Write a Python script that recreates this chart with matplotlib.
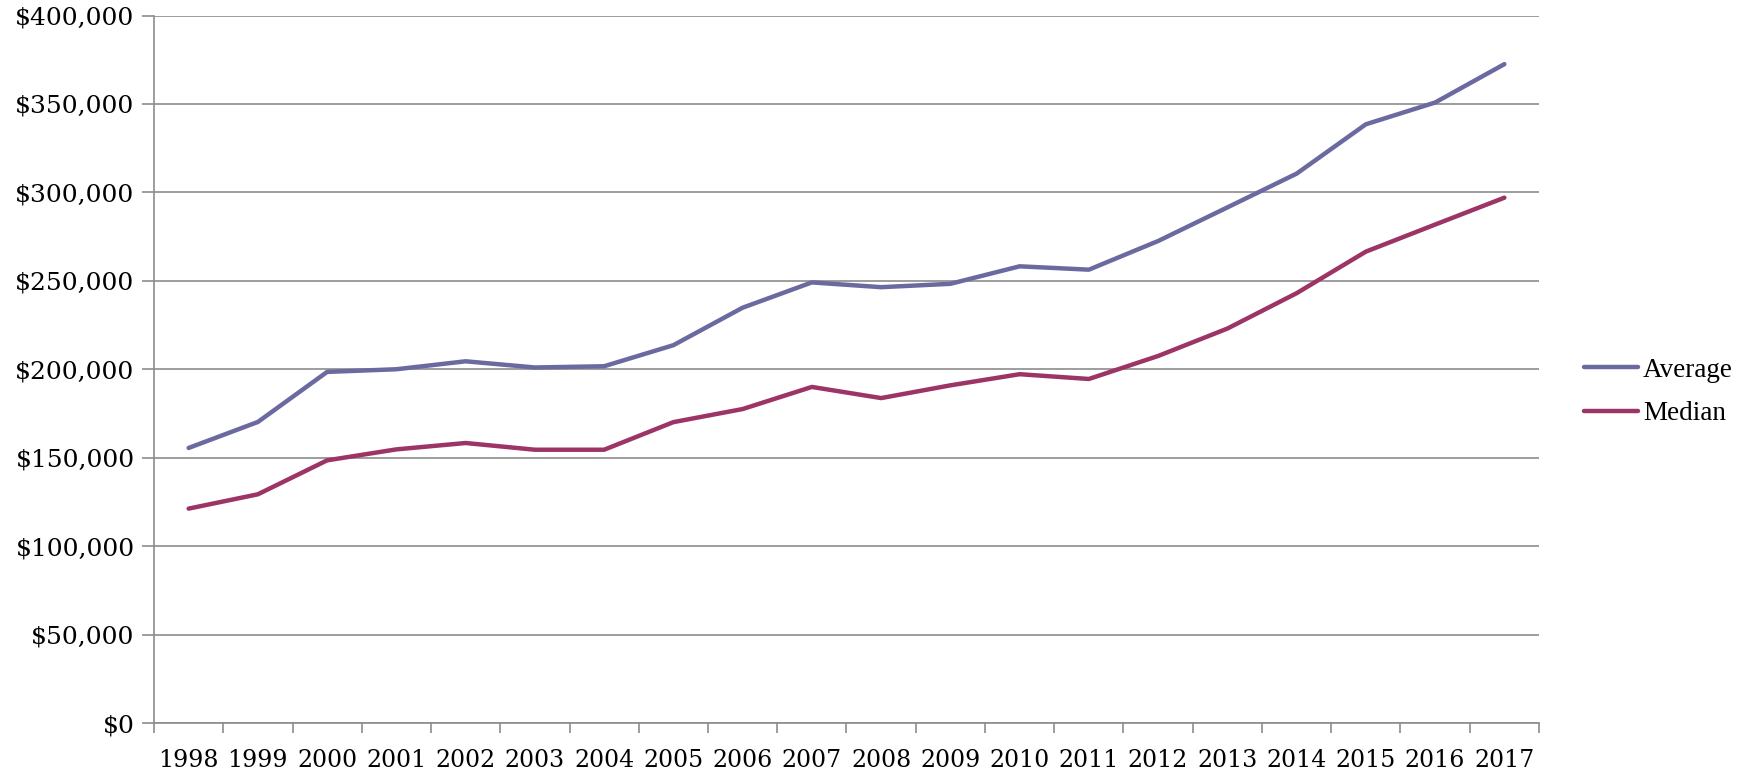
import numpy as np
import matplotlib
matplotlib.use("Agg")
import matplotlib.pyplot as plt
from matplotlib.ticker import FuncFormatter

# data
years = list(range(1998, 2018))
average = [155500, 170200, 198500, 200000, 204500, 201000, 201700, 213600, 234800, 249100,
           246400, 248300, 258200, 256300, 272500, 291500, 310600, 338500, 350800, 372500]
median = [121200, 129300, 148500, 154700, 158300, 154500, 154500, 170100, 177500, 190000,
          183700, 190900, 197200, 194500, 207500, 223000, 243000, 266500, 281800, 297000]
series_names = ["Average", "Median"]
colors = ["#6a6aa0", "#9c3466"]

plt.rcParams["font.family"] = ["DejaVu Serif"]

W, H = 1739, 772
fig = plt.figure(figsize=(W / 100, H / 100), dpi=100)
ax = fig.add_axes([154 / W, 1 - 723 / H, (1539 - 154) / W, (723 - 15.5) / H])

x = np.arange(len(years))
for vals, name, c in zip([average, median], series_names, colors):
    ax.plot(x, vals, color=c, lw=3.2, label=name, solid_capstyle="round", solid_joinstyle="round")

grey = "#8c8c8c"
ax.set_ylim(0, 400000)
ax.set_yticks(np.arange(0, 400001, 50000))
ax.yaxis.set_major_formatter(FuncFormatter(lambda v, p: f"${v:,.0f}"))
ax.grid(axis="y", color=grey, lw=1.2)
ax.set_axisbelow(True)

ax.set_xlim(-0.5, len(years) - 0.5)
ax.set_xticks(x)
ax.set_xticklabels([str(y) for y in years])
ax.set_xticks(np.arange(-0.5, len(years)), minor=True)
ax.tick_params(axis="x", which="major", length=0, pad=19, labelsize=17)
ax.tick_params(axis="x", which="minor", length=7, color=grey, width=1.2)
ax.tick_params(axis="y", length=9, color=grey, width=1.2, pad=5, labelsize=18)

for s in ["top", "right"]:
    ax.spines[s].set_visible(False)
for s in ["left", "bottom"]:
    ax.spines[s].set_color(grey)
    ax.spines[s].set_linewidth(1.2)

leg = fig.legend(loc="center left", bbox_to_anchor=(1584 / W, 1 - 392 / H), frameon=False,
                 prop={"family": "Liberation Serif", "size": 19.5}, handlelength=2.0,
                 handletextpad=0.18, labelspacing=0.68, borderaxespad=0, borderpad=0)

fig.savefig("out.png", dpi=100)
